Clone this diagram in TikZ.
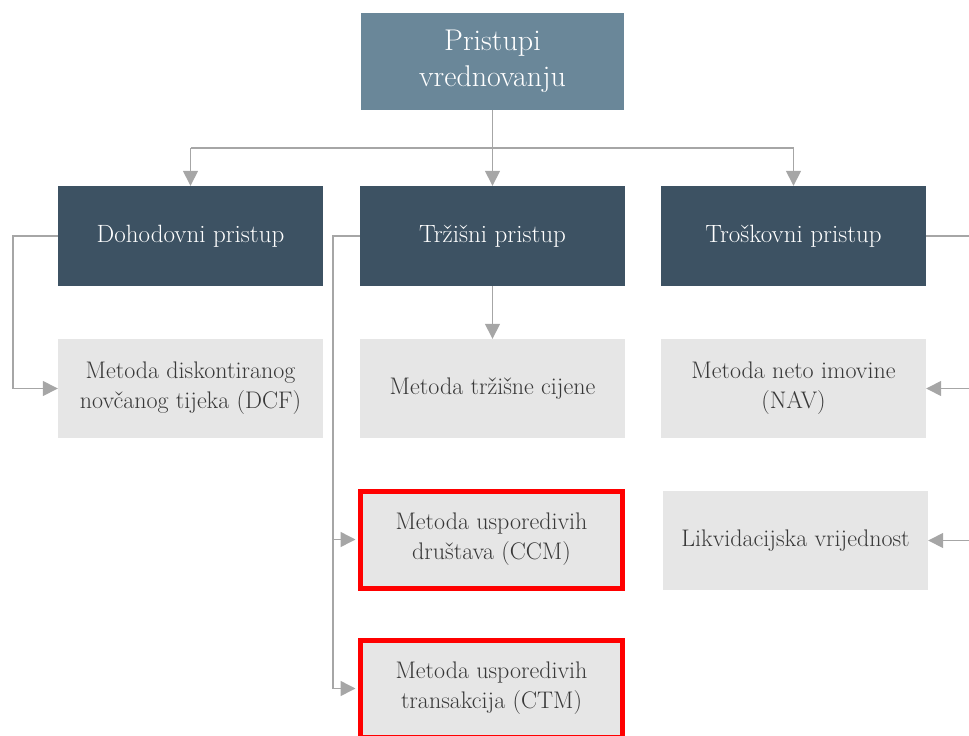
\documentclass[tikz,border=0pt]{standalone}
\usetikzlibrary{arrows.meta}
\definecolor{topc}{HTML}{6A8799}
\definecolor{darkc}{HTML}{3D5263}
\definecolor{lightc}{HTML}{E6E6E6}
\definecolor{linec}{HTML}{A6A6A6}
\definecolor{txtc}{HTML}{383838}
\tikzset{
  x=1pt, y=-1pt,
  topbox/.style={fill=topc, text=white, minimum width=263pt, minimum height=97pt, inner sep=0pt, align=center, font=\fontsize{30}{36}\selectfont},
  darkbox/.style={fill=darkc, text=white, minimum width=265pt, minimum height=100pt, inner sep=0pt, align=center, font=\fontsize{25}{30}\selectfont},
  lightbox/.style={fill=lightc, text=txtc, minimum width=265pt, minimum height=99pt, inner sep=0pt, align=center, font=\fontsize{24}{30}\selectfont},
  redbox/.style={lightbox, draw=red, line width=5pt, minimum width=262pt, minimum height=97pt},
  conn/.style={draw=linec, line width=1.5pt, -{Triangle[length=15pt,width=15pt]}},
  plain/.style={draw=linec, line width=1.5pt},
}
\begin{document}
\begin{tikzpicture}
\useasboundingbox (0,0) rectangle (969,736);
\clip (0,0) rectangle (969,736);
\node[topbox] (top) at (492.5,61.5) {Pristupi\\vrednovanju};
\node[darkbox] (doh) at (190.5,236) {Dohodovni pristup};
\node[darkbox] (trz) at (492.5,236) {Tržišni pristup};
\node[darkbox] (tro) at (793.5,236) {Troškovni pristup};
\node[lightbox] (dcf) at (190.5,388.5) {Metoda diskontiranog\\novčanog tijeka (DCF)};
\node[lightbox] (mtc) at (492.5,388.5) {Metoda tržišne cijene};
\node[lightbox] (nav) at (793.5,388.5) {Metoda neto imovine\\(NAV)};
\node[redbox] (ccm) at (491.5,539.5) {Metoda usporedivih\\društava (CCM)};
\node[lightbox] (lik) at (795.5,540.5) {Likvidacijska vrijednost};
\node[redbox] (ctm) at (491.5,688.5) {Metoda usporedivih\\transakcija (CTM)};
\coordinate (hub) at (492.5,148);
\coordinate (hl) at (190.5,148);
\coordinate (hr) at (793.5,148);
\coordinate (dl) at (13,236);
\coordinate (tl) at (333,236);
\coordinate (rr) at (975,236);
\coordinate (rb) at (975,560);
\draw[plain] (top.south) -- (hub);
\draw[plain] (hl) -- (hr);
\draw[conn] (hl) -- (doh.north);
\draw[conn] (hub) -- (trz.north);
\draw[conn] (hr) -- (tro.north);
\draw[conn] (doh.west) -- (dl) |- (dcf.west);
\draw[conn] (trz.west) -- (tl) |- ([xshift=-2.5pt]ccm.west);
\draw[conn] (tl) |- ([xshift=-2.5pt]ctm.west);
\draw[conn] (trz.south) -- (mtc.north);
\draw[plain] (tro.east) -- (rr) -- (rb);
\draw[conn] (rb) |- (nav.east);
\draw[conn] (rb) |- (lik.east);
\end{tikzpicture}
\end{document}
